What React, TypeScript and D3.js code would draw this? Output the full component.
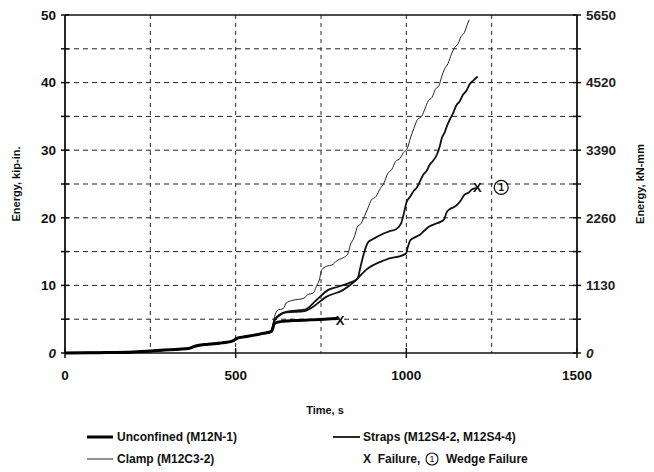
import React from "react";
import * as d3 from "d3";

const W = 654, H = 472;
const M = { left: 65, right: 577, top: 15, bottom: 353 };

const xTicks = [0, 500, 1000, 1500];
const yTicks = [0, 10, 20, 30, 40, 50];
const yMinorTicks = [0, 5, 10, 15, 20, 25, 30, 35, 40, 45, 50];
const yRightLabels = ["0", "1130", "2260", "3390", "4520", "5650"];
const xGrid = [250, 500, 750, 1000, 1250];
const yGrid = [5, 10, 15, 20, 25, 30, 35, 40, 45];

const commonStart: [number, number][] = [
  [0, 0], [100, 0.05], [200, 0.15], [280, 0.4], [365, 0.7], [380, 1.0], [420, 1.3],
  [460, 1.5], [492, 1.8], [505, 2.2], [540, 2.5], [580, 2.9], [605, 3.2],
];

const unconfined: [number, number][] = [
  ...commonStart, [614, 4.4], [640, 4.7], [668, 4.8], [720, 4.9], [760, 5.0], [800, 5.1],
];
const clamp: [number, number][] = [
  ...commonStart, [614, 5.4], [622, 6.3], [640, 6.6], [648, 7.4], [668, 7.8], [700, 8.1],
  [710, 8.6], [728, 8.9], [736, 9.8], [745, 10.8], [752, 12.3], [765, 12.8], [785, 13.1],
  [795, 13.6], [815, 14.1], [828, 14.6], [836, 16.0], [848, 17.2], [856, 18.6], [868, 19.2],
  [877, 20.2], [888, 21.5], [897, 22.6], [912, 23.2], [922, 24.2], [935, 25.2], [945, 26.5],
  [958, 27.2], [968, 28.3], [982, 28.8], [992, 29.7], [1003, 30.3], [1012, 31.8], [1022, 33.2],
  [1032, 34.5], [1045, 35.0], [1055, 36.2], [1064, 37.3], [1075, 37.8], [1085, 39], [1096, 39.6],
  [1103, 40.8], [1112, 42], [1122, 42.8], [1132, 44.2], [1142, 45.2], [1152, 45.8], [1160, 46.8],
  [1170, 47.4], [1178, 48.5], [1184, 49.3],
];
const strapA: [number, number][] = [
  ...commonStart, [614, 5.0], [648, 6.1], [702, 6.4], [736, 7.8], [770, 9.3], [800, 9.8],
  [830, 10.3], [857, 11], [866, 12.8], [875, 14.6], [887, 16.3], [900, 16.8], [915, 17.2],
  [930, 17.6], [950, 18], [970, 18.3], [985, 19.2], [992, 20.5], [1000, 22.2], [1012, 23.2],
  [1022, 24], [1030, 24.4], [1040, 25.4], [1050, 26.4], [1060, 27], [1068, 27.8], [1078, 28.4],
  [1090, 29.4], [1098, 30.6], [1104, 31.8], [1112, 32.6], [1120, 33.7], [1128, 34.6],
  [1138, 35.6], [1146, 36.6], [1156, 37.2], [1166, 38.2], [1176, 38.8], [1186, 39.8],
  [1196, 40.3], [1209, 40.9],
];
const strapB: [number, number][] = [
  ...commonStart, [614, 4.8], [648, 6.0], [702, 6.2], [726, 6.8], [765, 8.3], [814, 9.3],
  [853, 10.8], [882, 12.3], [940, 13.8], [999, 14.7], [1005, 15.8], [1012, 16.7], [1025, 17.1],
  [1040, 17.5], [1055, 18.2], [1067, 18.7], [1085, 19.1], [1100, 19.4], [1111, 19.8],
  [1118, 20.8], [1128, 21.3], [1140, 21.6], [1150, 22.0], [1160, 22.6], [1170, 23.4],
  [1182, 23.7], [1192, 24.2], [1204, 24.4],
];
const failures: [number, number][] = [[806, 4.8], [1208, 24.5]];
const wedge: [number, number] = [1278, 24.5];

const font = "'Liberation Sans', Arial, sans-serif";

export default function App() {
  const x = d3.scaleLinear().domain([0, 1500]).range([M.left, M.right]);
  const y = d3.scaleLinear().domain([0, 50]).range([M.bottom, M.top]);
  const line = d3.line<[number, number]>().x(d => x(d[0])).y(d => y(d[1])).curve(d3.curveMonotoneX);

  return (
    <svg width={W} height={H} style={{ position: "absolute", left: 0, top: 0, background: "#fff" }}
      fontFamily={font}>
      {xGrid.map(v => (
        <line key={"gx" + v} x1={x(v)} x2={x(v)} y1={M.top} y2={M.bottom}
          stroke="#222" strokeWidth={1} strokeDasharray="4,4" />
      ))}
      {yGrid.map(v => (
        <line key={"gy" + v} x1={M.left} x2={M.right} y1={y(v)} y2={y(v)}
          stroke="#222" strokeWidth={1} strokeDasharray="5,4" />
      ))}
      <line x1={M.left} x2={M.right} y1={M.top} y2={M.top} stroke="#111" strokeWidth={1.5} />
      <line x1={M.left} x2={M.right} y1={M.bottom} y2={M.bottom} stroke="#111" strokeWidth={1.5} />
      <line x1={M.left} x2={M.left} y1={M.top} y2={M.bottom} stroke="#111" strokeWidth={1.8} />
      <line x1={M.right} x2={M.right} y1={M.top} y2={M.bottom} stroke="#111" strokeWidth={1.8} />
      {yMinorTicks.map(v => (
        <g key={"yt" + v}>
          <line x1={M.left - 4} x2={M.left + 4} y1={y(v)} y2={y(v)} stroke="#111" strokeWidth={1.5} />
          <line x1={M.right - 4} x2={M.right + 4} y1={y(v)} y2={y(v)} stroke="#111" strokeWidth={1.5} />
        </g>
      ))}
      {yTicks.map((v, i) => (
        <g key={"yl" + v}>
          <text x={M.left - 9} y={y(v)} dy="0.35em" textAnchor="end" fontSize={13.5}
            fontWeight="bold" fontStyle={v === 0 ? "italic" : "normal"} fill="#111">{v}</text>
          <text x={M.right + 9} y={y(v)} dy="0.35em" textAnchor="start" fontSize={13.5}
            fontWeight={600} fontStyle={v === 0 ? "italic" : "normal"} fill="#222">{yRightLabels[i]}</text>
        </g>
      ))}
      {xTicks.map(v => (
        <g key={"xt" + v}>
          <line x1={x(v)} x2={x(v)} y1={M.bottom - 5} y2={M.bottom + 5} stroke="#111" strokeWidth={1.5} />
          <text x={x(v)} y={M.bottom + 27} textAnchor="middle" fontSize={13.5} fontWeight="bold" fill="#111">{v}</text>
        </g>
      ))}
      <text x={325} y={414} textAnchor="middle" fontSize={11} fontWeight="bold" fill="#111">Time, s</text>
      <text transform={`translate(20,${(M.top + M.bottom) / 2}) rotate(-90)`} textAnchor="middle"
        fontSize={11} fontWeight="bold" fill="#111">Energy, kip-in.</text>
      <text transform={`translate(644,${(M.top + M.bottom) / 2}) rotate(-90)`} textAnchor="middle"
        fontSize={11} fontWeight="bold" fill="#111">Energy, kN-mm</text>
      <path d={line(clamp)!} fill="none" stroke="#222" strokeWidth={1} />
      <path d={line(strapA)!} fill="none" stroke="#111" strokeWidth={1.8} />
      <path d={line(strapB)!} fill="none" stroke="#111" strokeWidth={1.8} />
      <path d={line(unconfined)!} fill="none" stroke="#000" strokeWidth={3} />
      {failures.map((f, i) => (
        <text key={"f" + i} x={x(f[0])} y={y(f[1])} dy="0.35em" textAnchor="middle" fontSize={13}
          fontWeight="bold" fill="#111">X</text>
      ))}
      <circle cx={x(wedge[0])} cy={y(wedge[1])} r={7} fill="none" stroke="#111" strokeWidth={1.3} />
      <text x={x(wedge[0])} y={y(wedge[1])} dy="0.35em" textAnchor="middle" fontSize={10}
        fontWeight="bold" fill="#111">1</text>
      <line x1={87} x2={113} y1={437} y2={437} stroke="#000" strokeWidth={3} />
      <text x={117} y={441} fontSize={12} fontWeight={600} fill="#111">Unconfined (M12N-1)</text>
      <line x1={87} x2={113} y1={459} y2={459} stroke="#222" strokeWidth={1} />
      <text x={117} y={463} fontSize={12} fontWeight={600} fill="#111">Clamp (M12C3-2)</text>
      <line x1={333} x2={360} y1={437} y2={437} stroke="#111" strokeWidth={1.8} />
      <text x={363} y={441} fontSize={12} fontWeight={600} fill="#111">Straps (M12S4-2, M12S4-4)</text>
      <text x={363} y={463} fontSize={12} fontWeight={600} fill="#111" xmlSpace="preserve">X  Failure,</text>
      <circle cx={432} cy={459} r={6} fill="none" stroke="#111" strokeWidth={1.1} />
      <text x={432} y={459} dy="0.35em" textAnchor="middle" fontSize={9} fill="#111">1</text>
      <text x={446} y={463} fontSize={12} fontWeight={600} fill="#111">Wedge Failure</text>
    </svg>
  );
}
